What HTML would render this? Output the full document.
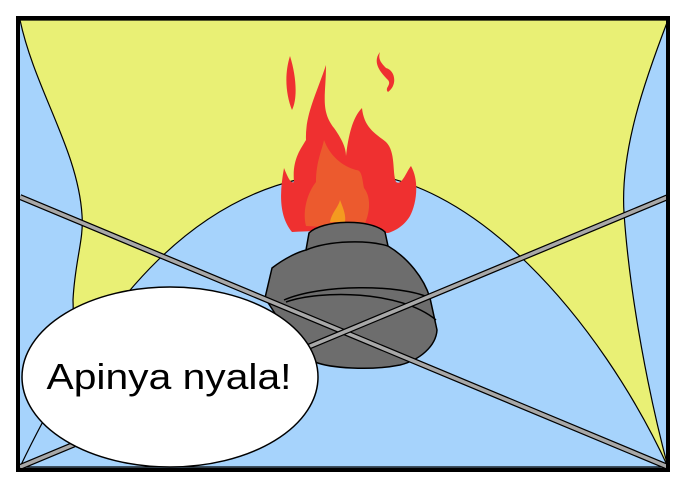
<!DOCTYPE html>
<html><head><meta charset="utf-8"><style>
html,body{margin:0;padding:0;background:#fff;width:690px;height:490px;overflow:hidden}
svg{display:block}
</style></head><body>
<svg width="690" height="490" viewBox="0 0 690 490">
  <rect x="18" y="18" width="650" height="452" fill="#a6d3fc"/>
  <path d="M20,20 L668,20 C645,80 620,150 624,213 C630,300 650,400 668,467 L20,467 C60,420 75,350 73,300 C75,260 84,240 82,215 C78,150 35,90 20,20 Z" fill="#e9f075" stroke="#000" stroke-width="1.2"/>
  <path d="M20,467 C100,300 200,180 345,173 C470,170 600,320 668,467 Z" fill="#a6d3fc" stroke="#000" stroke-width="1.2"/>
  <g>
    <path d="M292,232 C278,215 280,190 284,168 C288,178 291,184 294,182 C292,160 300,150 306,140 C305,115 316,95 326,65 C326,95 320,110 334,128 C344,142 346,150 346,156 C348,138 352,118 362,108 C364,128 376,134 386,142 C396,152 392,172 396,182 C402,186 406,172 411,166 C420,182 416,205 410,216 C404,226 395,231 388,233 C360,232 320,230 292,232 Z" fill="#ef3030"/>
    <path d="M290,56 C284,75 286,95 292,110 C298,98 296,75 290,56 Z M380,52 C372,62 380,72 388,80 C392,85 384,88 388,92 C398,85 395,70 386,68 C380,62 378,58 380,52 Z" fill="#ef3030"/>
    <path d="M306,226 C302,210 308,192 316,182 C316,162 322,150 324,140 C330,156 342,166 356,170 C362,170 362,178 364,188 C372,198 370,216 362,229 Z" fill="#ec5a2e"/>
    <path d="M330,222 C332,212 338,208 340,200 C344,210 346,216 345,222 Z" fill="#f49a20"/>
  </g>
  <g stroke="#000" stroke-width="1.5" fill="#6d6d6d">
    <path d="M306,250 L309,233 C322,220 370,218 385,232 L388,246 C408,258 424,278 430,298 L437,330 C436,346 420,360 400,365 C370,371 330,368 315,362 L300,352 L265,298 L272,268 C285,258 298,252 306,250 Z"/>
    <path d="M306,250 C330,240 368,240 388,246" fill="none"/>
    <path d="M284,300 C320,284 400,284 430,298" fill="none"/>
    <path d="M286,302 C320,290 400,290 436,320" fill="none"/>
  </g>
  <g>
    <line x1="20" y1="197" x2="668" y2="467" stroke="#000" stroke-width="6"/>
    <line x1="20" y1="197" x2="668" y2="467" stroke="#a8a8a8" stroke-width="3.5"/>
    <line x1="668" y1="197" x2="20" y2="467" stroke="#000" stroke-width="6"/>
    <line x1="668" y1="197" x2="20" y2="467" stroke="#a8a8a8" stroke-width="3.5"/>
  </g>
  <ellipse cx="170" cy="377" rx="148" ry="90" fill="#fff" stroke="#000" stroke-width="1.5"/>
  <text x="169" y="389" text-anchor="middle" font-family="'Liberation Sans', sans-serif" font-size="36" textLength="245" lengthAdjust="spacingAndGlyphs" fill="#000">Apinya nyala!</text>
  <rect x="18" y="18" width="650" height="452" fill="none" stroke="#000" stroke-width="4"/>
</svg>
</body></html>
